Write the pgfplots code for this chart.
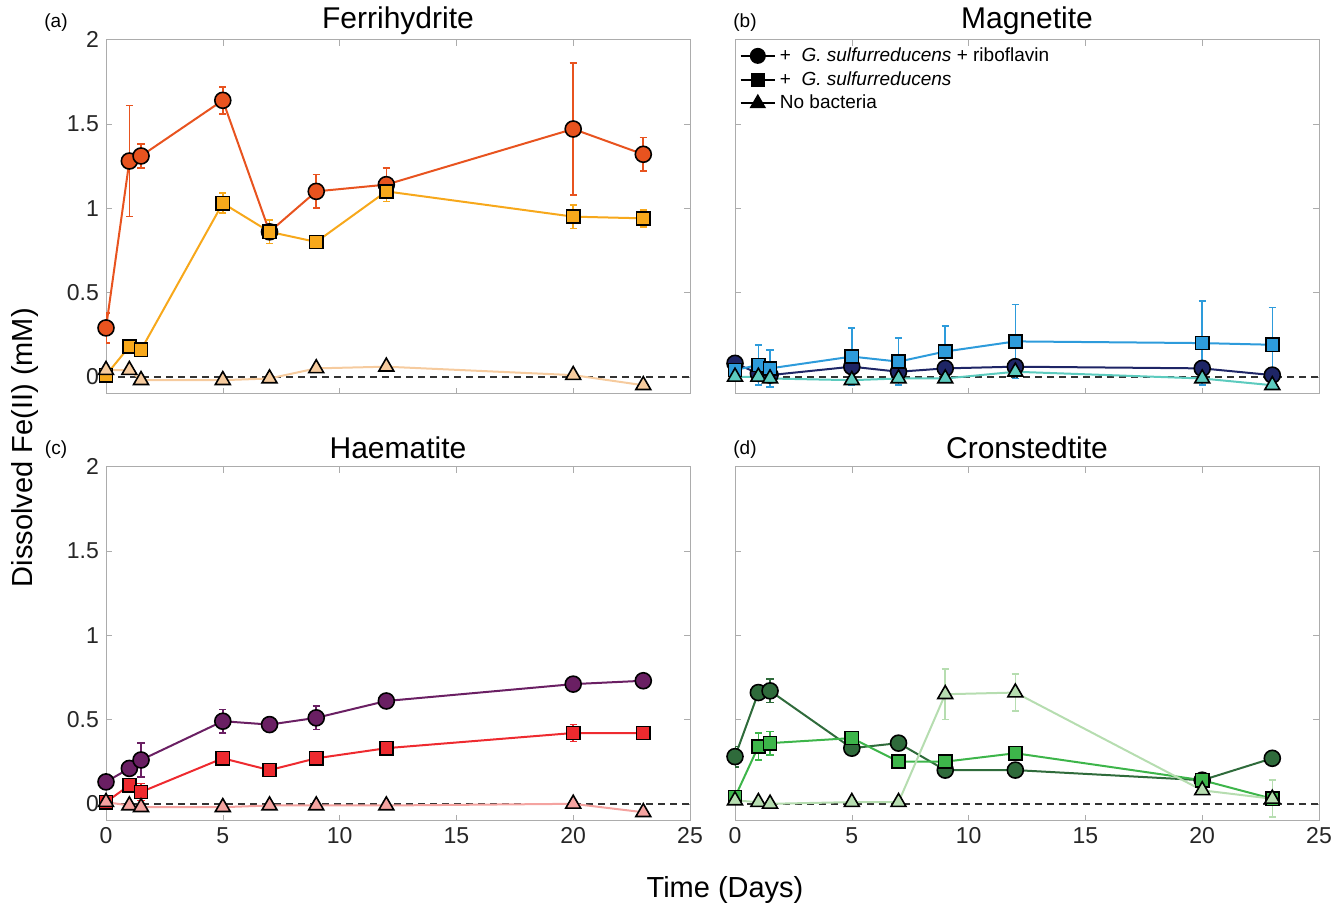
\documentclass[border=0pt]{standalone}
\usepackage{fontspec}
\setmainfont{Liberation Sans}
\usepackage{pgfplots}
\usepackage{pgfplotstable}
\pgfplotsset{compat=1.18}

\definecolor{ferC}{HTML}{E8531F}
\definecolor{ferS}{HTML}{F7A81B}
\definecolor{ferT}{HTML}{F6CB9E}
\definecolor{magC}{HTML}{1E2566}
\definecolor{magS}{HTML}{2D9BDB}
\definecolor{magT}{HTML}{5CCBBE}
\definecolor{haeC}{HTML}{6A1F63}
\definecolor{haeS}{HTML}{EE2A2F}
\definecolor{haeT}{HTML}{F4A3A0}
\definecolor{croC}{HTML}{2F6B3B}
\definecolor{croS}{HTML}{3DB54A}
\definecolor{croT}{HTML}{B6DDB0}

% t, circles (+riboflavin), squares (G. sulf.), triangles (no bacteria); *e = error
\pgfplotstableread{
t   c    ce   s    se   r     re
0   0.29 0.09 0.01 0.00 0.04  0
1   1.28 0.33 0.18 0.00 0.04  0
1.5 1.31 0.07 0.16 0.00 -0.02 0
5   1.64 0.08 1.03 0.06 -0.02 0
7   0.86 0.00 0.86 0.07 -0.01 0
9   1.10 0.10 0.80 0.00 0.05  0
12  1.14 0.10 1.10 0.06 0.06  0
20  1.47 0.39 0.95 0.07 0.01  0
23  1.32 0.10 0.94 0.05 -0.05 0
}\ferri
\pgfplotstableread{
t   c    ce   s    se   r     re
0   0.08 0.02 0.04 0.00 0.00  0
1   0.02 0.00 0.07 0.12 0.00  0
1.5 0.01 0.00 0.05 0.11 -0.01 0
5   0.06 0.00 0.12 0.17 -0.02 0
7   0.03 0.00 0.09 0.14 -0.01 0
9   0.05 0.00 0.15 0.15 -0.01 0
12  0.06 0.00 0.21 0.22 0.03  0
20  0.05 0.03 0.20 0.25 -0.01 0
23  0.01 0.00 0.19 0.22 -0.05 0
}\magne
\pgfplotstableread{
t   c    ce   s    se   r     re
0   0.13 0.04 0.01 0.03 0.01  0
1   0.21 0.00 0.11 0.00 -0.01 0
1.5 0.26 0.10 0.07 0.05 -0.02 0
5   0.49 0.07 0.27 0.00 -0.02 0
7   0.47 0.00 0.20 0.03 -0.01 0
9   0.51 0.07 0.27 0.00 -0.01 0
12  0.61 0.00 0.33 0.00 -0.01 0
20  0.71 0.00 0.42 0.05 0.00  0
23  0.73 0.00 0.42 0.00 -0.05 0
}\haem
\pgfplotstableread{
t   c    ce   s    se   r     re
0   0.28 0.06 0.04 0.00 0.02  0
1   0.66 0.04 0.34 0.08 0.01  0
1.5 0.67 0.07 0.36 0.07 0.00  0
5   0.33 0.02 0.39 0.00 0.01  0
7   0.36 0.04 0.25 0.04 0.01  0
9   0.20 0.00 0.25 0.00 0.65  0.15
12  0.20 0.00 0.30 0.00 0.66  0.11
20  0.14 0.00 0.14 0.00 0.08  0
23  0.27 0.00 0.03 0.00 0.03  0.11
}\cron

\pgfplotsset{
  panel/.style={
    scale only axis, width=292pt, height=177pt,
    xmin=0, xmax=25, ymin=-0.1, ymax=2,
    xtick={0,5,...,25}, ytick={0,0.5,1,1.5,2},
    axis line style={draw=gray!65}, major tick style={draw=gray!65},
    major tick length=3pt, tick align=inside,
    tick label style={font=\fontsize{11.5}{13}\selectfont, text=black!85},
    /pgf/number format/assume math mode=true,
    title style={font=\fontsize{15}{18}\selectfont, at={(0.5,1)}, anchor=center, yshift=3.5pt},
    error bars/y dir=both, error bars/y explicit,
    error bars/error mark options={rotate=90, mark size=1.8pt, line width=0.8pt},
    error bars/error bar style={line width=0.8pt},
  },
  circ/.style={color=#1, line width=1pt, mark=*, mark size=4pt,
    mark options={fill=#1, draw=black, line width=0.8pt}},
  sq/.style={color=#1, line width=1pt, mark=square*, mark size=3.3pt,
    mark options={fill=#1, draw=black, line width=0.8pt}},
  tri/.style={color=#1, line width=1pt, mark=triangle*, mark size=4.3pt,
    mark options={fill=#1, draw=black, line width=0.8pt}},
  zero/.style={black!80, dashed, dash pattern=on 3.5pt off 2.5pt, line width=0.7pt, forget plot},
}

\begin{document}
\begin{tikzpicture}
\path (0,0) rectangle (671pt,-452.5pt);

% (a) Ferrihydrite
\begin{axis}[panel, at={(53pt,-18.5pt)}, anchor=north west, title={Ferrihydrite}, xticklabels={}]
  \addplot[zero] coordinates {(0,0) (25,0)};
  \addplot[circ=ferC] table[x=t, y=c, y error=ce] {\ferri};
  \addplot[sq=ferS] table[x=t, y=s, y error=se] {\ferri};
  \addplot[tri=ferT] table[x=t, y=r, y error=re] {\ferri};
\end{axis}

% (b) Magnetite
\begin{axis}[panel, at={(367.5pt,-18.5pt)}, anchor=north west, title={Magnetite},
    xticklabels={}, yticklabels={},
    legend style={at={(0.004,0.996)}, anchor=north west, draw=none, fill=none,
      font=\fontsize{9.5}{11}\selectfont, inner sep=1pt, row sep=-0.5pt},
    legend cell align=left]
  \addlegendimage{black, line width=1pt, mark=*, mark size=3.5pt}
  \addlegendimage{black, line width=1pt, mark=square*, mark size=3pt}
  \addlegendimage{black, line width=1pt, mark=triangle*, mark size=3.8pt}
  \addplot[zero] coordinates {(0,0) (25,0)};
  \addplot[circ=magC] table[x=t, y=c, y error=ce] {\magne};
  \addplot[sq=magS] table[x=t, y=s, y error=se] {\magne};
  \addplot[tri=magT] table[x=t, y=r, y error=re] {\magne};
  \legend{+\ \ \textit{G. sulfurreducens} + riboflavin, +\ \ \textit{G. sulfurreducens}, No bacteria}
\end{axis}

% (c) Haematite
\begin{axis}[panel, at={(53pt,-232pt)}, anchor=north west, title={Haematite}]
  \addplot[zero] coordinates {(0,0) (25,0)};
  \addplot[circ=haeC] table[x=t, y=c, y error=ce] {\haem};
  \addplot[sq=haeS] table[x=t, y=s, y error=se] {\haem};
  \addplot[tri=haeT] table[x=t, y=r, y error=re] {\haem};
\end{axis}

% (d) Cronstedtite
\begin{axis}[panel, at={(367.5pt,-232pt)}, anchor=north west, title={Cronstedtite}, yticklabels={}]
  \addplot[zero] coordinates {(0,0) (25,0)};
  \addplot[circ=croC] table[x=t, y=c, y error=ce] {\cron};
  \addplot[sq=croS] table[x=t, y=s, y error=se] {\cron};
  \addplot[tri=croT] table[x=t, y=r, y error=re] {\cron};
\end{axis}

\node[font=\fontsize{9.5}{11}\selectfont] at (28pt,-10pt) {(a)};
\node[font=\fontsize{9.5}{11}\selectfont] at (372.5pt,-10pt) {(b)};
\node[font=\fontsize{9.5}{11}\selectfont] at (28pt,-223.5pt) {(c)};
\node[font=\fontsize{9.5}{11}\selectfont] at (372.5pt,-223.5pt) {(d)};

\node[rotate=90, font=\fontsize{14.5}{17}\selectfont] at (12.5pt,-222.5pt) {Dissolved Fe(II) (mM)};
\node[font=\fontsize{14.5}{17}\selectfont] at (362.5pt,-443.5pt) {Time (Days)};
\end{tikzpicture}
\end{document}
